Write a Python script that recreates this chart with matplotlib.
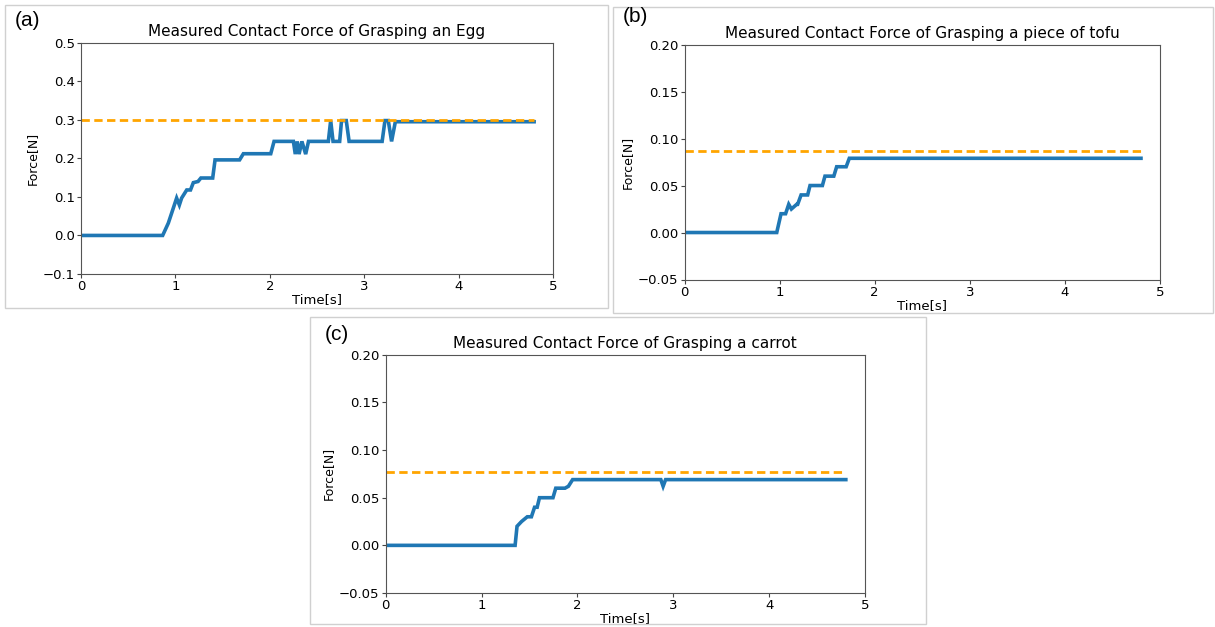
import numpy as np
from matplotlib import pyplot as plt
from matplotlib.patches import Rectangle

# egg data (a)
egg_t = [0, 0.865, 0.925, 0.978, 1.013, 1.042, 1.066, 1.12, 1.16, 1.19, 1.24, 1.27, 1.395, 1.42,
         1.68, 1.72, 2.01, 2.045, 2.25, 2.27, 2.29, 2.31, 2.34, 2.38, 2.41, 2.62, 2.645, 2.67,
         2.74, 2.76, 2.81, 2.84, 3.19, 3.22, 3.255, 3.29, 3.33, 4.80]
egg_f = [0, 0, 0.032, 0.071, 0.097, 0.079, 0.097, 0.118, 0.118, 0.137, 0.14, 0.149, 0.149, 0.196,
         0.196, 0.212, 0.212, 0.244, 0.244, 0.211, 0.244, 0.211, 0.244, 0.211, 0.244, 0.244, 0.298, 0.244,
         0.244, 0.298, 0.298, 0.244, 0.244, 0.298, 0.298, 0.244, 0.295, 0.295]
egg_limit = 0.30

# tofu data (b)
tofu_t = [0, 0.97, 1.015, 1.063, 1.096, 1.124, 1.18, 1.19, 1.226, 1.295, 1.32, 1.45, 1.477, 1.57,
          1.60, 1.70, 1.733, 4.80]
tofu_f = [0, 0, 0.02, 0.02, 0.03, 0.025, 0.03, 0.03, 0.04, 0.04, 0.05, 0.05, 0.06, 0.06,
          0.07, 0.07, 0.079, 0.079]
tofu_limit = 0.087

# carrot data (c)
carrot_t = [0, 1.35, 1.37, 1.417, 1.477, 1.52, 1.553, 1.58, 1.604, 1.745, 1.774, 1.87, 1.906, 1.95,
            2.87, 2.894, 2.92, 4.80]
carrot_f = [0, 0, 0.02, 0.025, 0.03, 0.03, 0.04, 0.04, 0.05, 0.05, 0.06, 0.06, 0.062, 0.069,
            0.069, 0.062, 0.069, 0.069]
carrot_limit = 0.077

W, H = 1215, 627
fig = plt.figure(figsize=(W / 100, H / 100), dpi=100)


def px_axes(left, right, top, bottom):
    return fig.add_axes([left / W, 1 - bottom / H, (right - left) / W, (bottom - top) / H])


def px_box(x0, y0, x1, y1):
    fig.patches.append(Rectangle((x0 / W, 1 - y1 / H), (x1 - x0) / W, (y1 - y0) / H,
                                 transform=fig.transFigure, fill=False, ec='#d0d0d0', lw=1))


def force_plot(ax, t, f, limit, title, ylim, yticks, yfmt):
    ax.plot(t, f, color='#1f77b4', lw=2.6, solid_joinstyle='miter')
    ax.plot([0, 4.8], [limit, limit], color='#FFA500', lw=2, dashes=(3, 1.6))
    ax.set_xlim(0, 5)
    ax.set_ylim(*ylim)
    ax.set_yticks(yticks)
    ax.set_yticklabels([yfmt.format(v).replace('-', '\u2212') for v in yticks])
    ax.set_xticks([0, 1, 2, 3, 4, 5])
    ax.set_title(title, fontsize=11, pad=5)
    ax.set_xlabel('Time[s]', fontsize=9.5, labelpad=0)
    ax.set_ylabel('Force[N]', fontsize=9, labelpad=3)
    ax.tick_params(labelsize=9.5, color='#444', length=3, pad=1.5)
    for s in ax.spines.values():
        s.set_color('#555')


# panel borders (screenshots)
px_box(5, 5, 608, 308)
px_box(613, 7, 1213, 313)
px_box(310, 317, 926, 624)

ax1 = px_axes(81, 553, 42.7, 274)
force_plot(ax1, egg_t, egg_f, egg_limit, 'Measured Contact Force of Grasping an Egg',
           (-0.1, 0.5), np.round(np.arange(-0.1, 0.51, 0.1), 1), '{:.1f}')

ax2 = px_axes(684.5, 1160, 44.6, 279.5)
force_plot(ax2, tofu_t, tofu_f, tofu_limit, 'Measured Contact Force of Grasping a piece of tofu',
           (-0.05, 0.2), np.round(np.arange(-0.05, 0.21, 0.05), 2), '{:.2f}')

ax3 = px_axes(385.7, 865, 354.8, 593)
force_plot(ax3, carrot_t, carrot_f, carrot_limit, 'Measured Contact Force of Grasping a carrot',
           (-0.05, 0.2), np.round(np.arange(-0.05, 0.21, 0.05), 2), '{:.2f}')

# panel letters
fig.text(28 / W, 1 - 21 / H, '(a)', fontsize=15, family='Liberation Sans', ha='center', va='center')
fig.text(635 / W, 1 - 17 / H, '(b)', fontsize=15, family='Liberation Sans', ha='center', va='center')
fig.text(337 / W, 1 - 334 / H, '(c)', fontsize=15, family='Liberation Sans', ha='center', va='center')

plt.savefig('out.png', dpi=100)
plt.close()
